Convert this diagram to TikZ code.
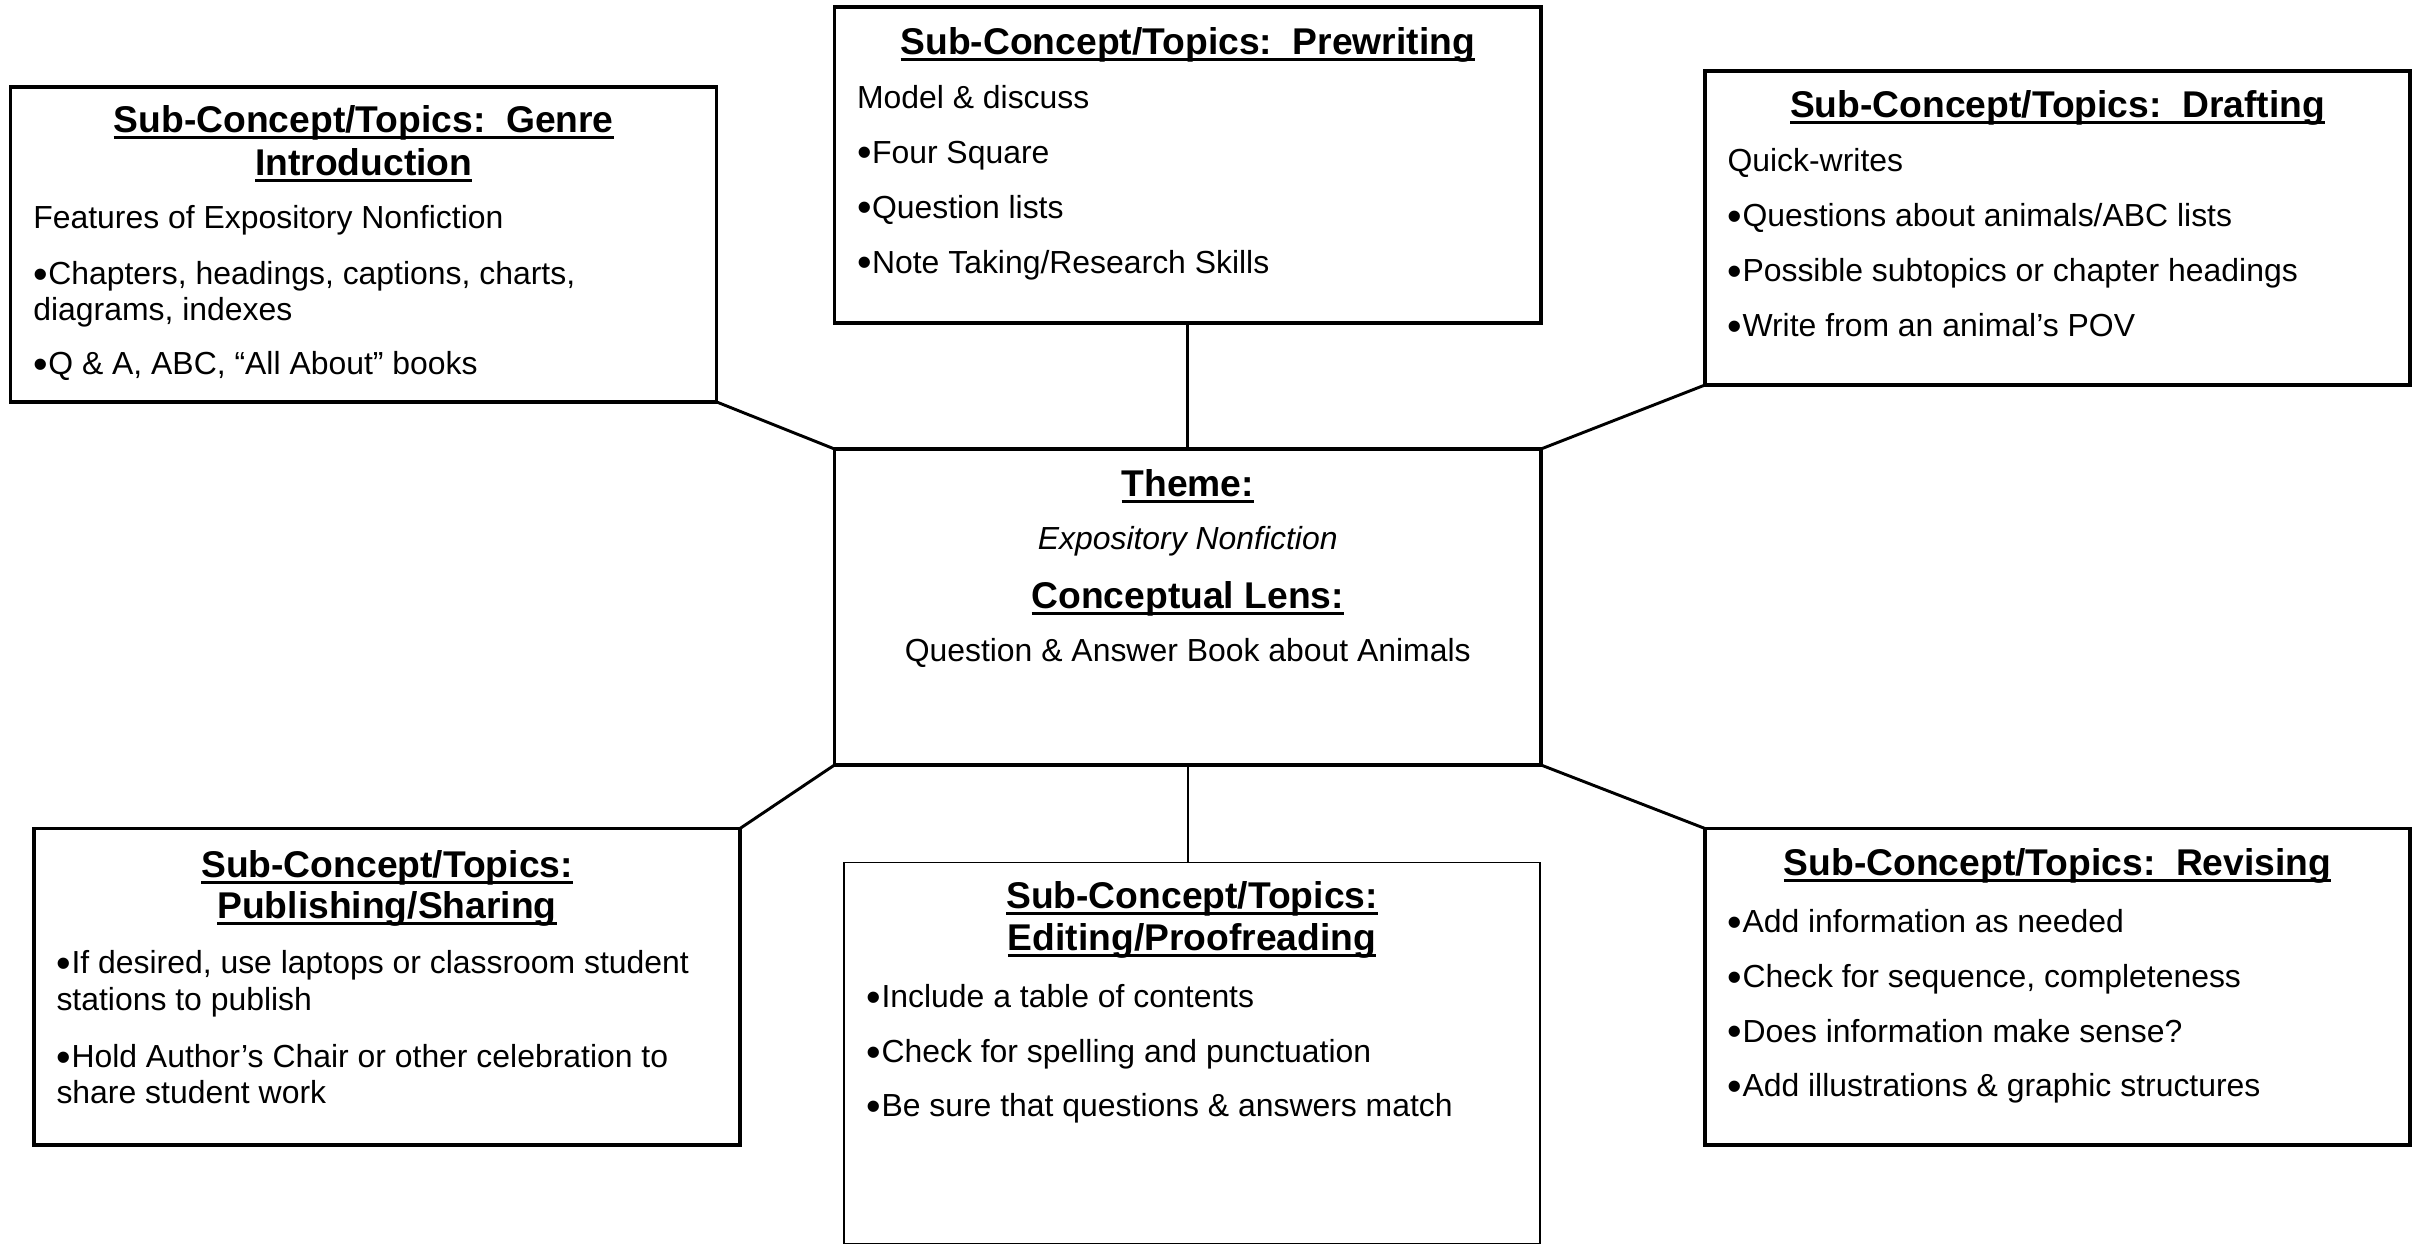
\documentclass[tikz,border=0pt]{standalone}
\usepackage{fontspec}
\usepackage{graphicx}
\setmainfont{Liberation Sans}
\usetikzlibrary{fit}
% heading underline: a rule just below the baseline, as wide as the text
\newcommand\ulhead[1]{\setbox0\hbox{#1}\rlap{\rule[-2.3pt]{\wd0}{1.15pt}}\box0}
% list bullet: a slightly enlarged dot on a fixed advance
\newcommand\blt{\makebox[0.47em][l]{\raisebox{-0.1em}{\scalebox{1.3}{•}}}}
\begin{document}
\frenchspacing
\begin{tikzpicture}[x=0.376pt, y=-0.376pt,
  box/.style={draw, line width=1.25pt, inner sep=0pt, outer sep=0pt},
  thinbox/.style={box, line width=0.6pt},
  conn/.style={line width=1.1pt},
  thinconn/.style={line width=0.6pt},
  head/.style={anchor=base, inner sep=0pt, font=\fontsize{14}{16}\selectfont\bfseries},
  body/.style={anchor=base west, inner sep=0pt, font=\fontsize{12}{14}\selectfont},
  mid/.style={anchor=base, inner sep=0pt, font=\fontsize{12}{14}\selectfont}]

\fill[white] (0,0) rectangle (2422,1246);
\useasboundingbox (0,0) rectangle (2422,1246);

% ---------- boxes ----------
\node[box, fit={(10.8,87) (716.7,402)}] (genre) {};
\node[box, fit={(834.5,7) (1541,323)}] (prew) {};
\node[box, fit={(1705,71) (2410,385)}] (draft) {};
\node[box, fit={(834.5,449) (1541,765)}] (center) {};
\node[box, fit={(34,828.5) (740,1145)}] (pub) {};
\node[thinbox, fit={(844,862.5) (1540,1243.5)}] (edit) {};
\node[box, fit={(1705,828.5) (2410,1145)}] (rev) {};

% ---------- connectors ----------
\draw[conn] (genre.south east) -- (center.north west);
\draw[conn] (prew.south) -- (center.north);
\draw[conn] (draft.south west) -- (center.north east);
\draw[conn] (center.south west) -- (pub.north east);
\draw[thinconn] (center.south) -- (center.south |- edit.north);
\draw[conn] (center.south east) -- (rev.north west);

% ---------- genre introduction ----------
\node[head] (gh1) at (363.7,133) {\ulhead{Sub-Concept/Topics:\ \ Genre}};
\node[head] (gh2) at (363.7,176) {\ulhead{Introduction}};
\node[body] (gb1) at (32.8,229) {Features of Expository Nonfiction};
\node[body] (gb2) at (32.8,285) {\blt Chapters, headings, captions, charts,};
\node[body] (gb3) at (32.8,321) {diagrams, indexes};
\node[body] (gb4) at (32.8,375) {\blt Q \& A, ABC, “All About” books};

% ---------- prewriting ----------
\node[head] (ph1) at (1187.7,55) {\ulhead{Sub-Concept/Topics:\ \ Prewriting}};
\node[body] (pb1) at (856.5,108.5) {Model \& discuss};
\node[body] (pb2) at (856.5,163.5) {\blt Four Square};
\node[body] (pb3) at (856.5,218.5) {\blt Question lists};
\node[body] (pb4) at (856.5,273.5) {\blt Note Taking/Research Skills};

% ---------- drafting ----------
\node[head] (dh1) at (2057.5,118) {\ulhead{Sub-Concept/Topics:\ \ Drafting}};
\node[body] (db1) at (1727,172) {Quick-writes};
\node[body] (db2) at (1727,227) {\blt Questions about animals/ABC lists};
\node[body] (db3) at (1727,282) {\blt Possible subtopics or chapter headings};
\node[body] (db4) at (1727,337) {\blt Write from an animal’s POV};

% ---------- theme and lens ----------
\node[head] (ch1) at (1187.7,497) {\ulhead{Theme:}};
\node[mid, font=\fontsize{12}{14}\selectfont\itshape] (cb1) at (1187.7,550) {Expository Nonfiction};
\node[head] (ch2) at (1187.7,609) {\ulhead{Conceptual Lens:}};
\node[mid] (cb2) at (1187.7,662) {Question \& Answer Book about Animals};

% ---------- publishing / sharing ----------
\node[head] (uh1) at (387,878) {\ulhead{Sub-Concept/Topics:}};
\node[head] (uh2) at (387,919) {\ulhead{Publishing/Sharing}};
\node[body] (ub1) at (56,974) {\blt If desired, use laptops or classroom student};
\node[body] (ub2) at (56,1011) {stations to publish};
\node[body] (ub3) at (56,1068) {\blt Hold Author’s Chair or other celebration to};
\node[body] (ub4) at (56,1103) {share student work};

% ---------- editing / proofreading ----------
\node[head] (eh1) at (1192,909) {\ulhead{Sub-Concept/Topics:}};
\node[head] (eh2) at (1192,951) {\ulhead{Editing/Proofreading}};
\node[body] (eb1) at (866,1008) {\blt Include a table of contents};
\node[body] (eb2) at (866,1063) {\blt Check for spelling and punctuation};
\node[body] (eb3) at (866,1117) {\blt Be sure that questions \& answers match};

% ---------- revising ----------
\node[head] (rh1) at (2057.5,876) {\ulhead{Sub-Concept/Topics:\ \ Revising}};
\node[body] (rb1) at (1727,933) {\blt Add information as needed};
\node[body] (rb2) at (1727,988) {\blt Check for sequence, completeness};
\node[body] (rb3) at (1727,1042) {\blt Does information make sense?};
\node[body] (rb4) at (1727,1097) {\blt Add illustrations \& graphic structures};
\end{tikzpicture}
\end{document}
